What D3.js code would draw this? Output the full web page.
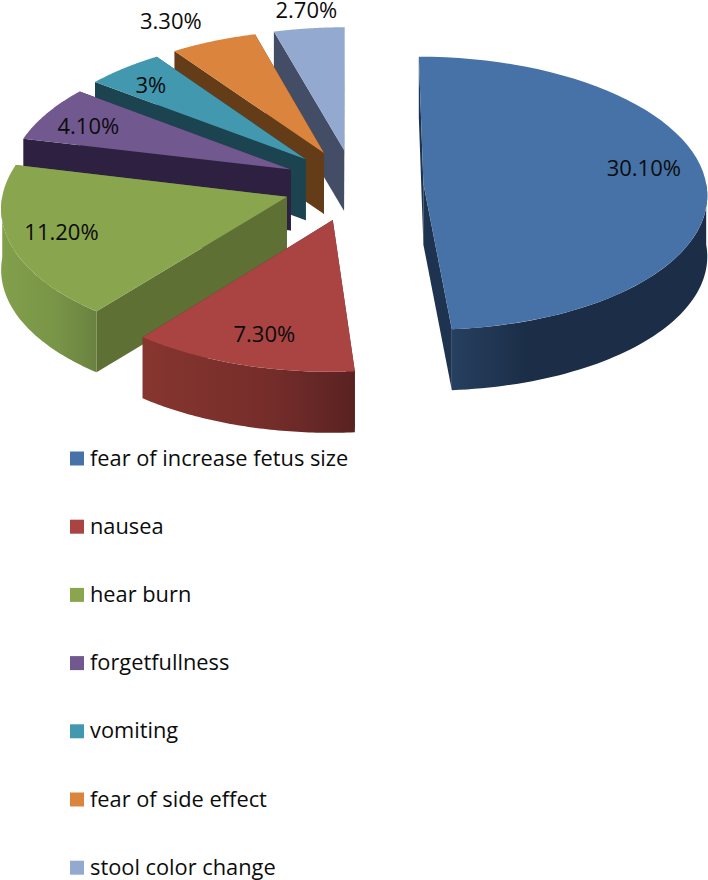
<!DOCTYPE html>
<html><head><meta charset="utf-8">
<script src="https://cdn.jsdelivr.net/npm/d3@7"></script>
<style>html,body{margin:0;padding:0;background:#fff}svg{display:block}text{font-family:"Open Sans",sans-serif;fill:#0c0c0c}</style>
</head><body><div id="c"></div>
<script>
const categories = ["fear of increase fetus size","nausea","hear burn","forgetfullness","vomiting","fear of side effect","stool color change"];
const values = [30.1,7.3,11.2,4.1,3,3.3,2.7];
const valueLabels = ["30.10%","7.30%","11.20%","4.10%","3%","3.30%","2.70%"];
const topColors = ["#4672a7","#a94442","#89a54e","#71588f","#4198af","#db843d","#93a9cf"];
const cutColors = ["#1e3350","#6a2a28","#5e7034","#2e2040","#1c4450","#653c18","#434e66"];
const wallLeft  = ["#26405f","#87352f","#82a04b","#2e2040","#1c4450","#653c18","#434e66"];
const wallRight = ["#1b2d47","#592222","#6a8140","#2e2040","#1c4450","#653c18","#434e66"];
const drawOrder = [0,6,5,4,3,2,1];
const labelShift = [[9,-13],[-1,6],[-19,0],[-18,-2],[-17,-6],[-69,-48],[-11,-48]];

const W=708,H=880;
const cx=353.5,cy=185,rx=283,ry=136,ex=70,ey=36,persp=0.07,depth=61;
const legendX=70,legendTextX=90,legendBox=14,legendY0=458.5,legendStep=68.2;

const svg=d3.select("#c").append("svg").attr("width",W).attr("height",H);
const defs=svg.append("defs");
const pie=d3.pie().sort(null).value(d=>d);
const arcs=pie(values);
const line=d3.line();
const unit=a=>[Math.sin(a),-Math.cos(a)];

function project(s,a,r,dz){
  const m=(s.startAngle+s.endAngle)/2,[mu,mv]=unit(m),[u,v]=unit(a);
  const gx=ex*mu+rx*r*u, gy=ey*mv+ry*r*v;
  const k=1/(1-persp*gy/ry);
  return [cx+gx*k, cy+gy*k+(dz||0)];
}
const layer=svg.append("g");
drawOrder.forEach(i=>{
  const s=arcs[i],a0=s.startAngle,a1=s.endAngle,g=layer.append("g");
  const step=(a1-a0)/60;
  const angles=d3.range(61).map(n=>a0+n*step);
  const apexT=project(s,a0,0),apexB=project(s,a0,0,depth);
  [a0,a1].forEach(a=>{
    g.append("path").attr("fill",cutColors[i]).attr("d",
      line([apexT,project(s,a,1),project(s,a,1,depth),apexB])+"Z");
  });
  const f0=Math.max(a0,Math.PI/2),f1=Math.min(a1,1.5*Math.PI);
  if(f1>f0){
    const fa=d3.range(61).map(n=>f0+n*(f1-f0)/60);
    const tops=fa.map(a=>project(s,a,1)),bots=fa.map(a=>project(s,a,1,depth));
    const xs=tops.map(p=>p[0]);
    const id="w"+i;
    const gr=defs.append("linearGradient").attr("id",id).attr("gradientUnits","userSpaceOnUse")
      .attr("x1",d3.min(xs)).attr("x2",d3.max(xs)).attr("y1",0).attr("y2",0);
    gr.append("stop").attr("offset",0).attr("stop-color",wallLeft[i]);
    gr.append("stop").attr("offset",i===0?0.3:0.6).attr("stop-color",d3.interpolateRgb(wallLeft[i],wallRight[i])(i===0?1:0.4));
    gr.append("stop").attr("offset",1).attr("stop-color",wallRight[i]);
    g.append("path").attr("fill",`url(#${id})`).attr("d",line(tops.concat(bots.reverse()))+"Z");
  }
  g.append("path").attr("fill",topColors[i]).attr("d",
    line([apexT].concat(angles.map(a=>project(s,a,1))))+"Z");
});
svg.append("g").selectAll("text").data(arcs).join("text")
  .attr("text-anchor","middle").attr("dominant-baseline","central")
  .attr("font-size",22)
  .attr("x",(d,i)=>project(d,(d.startAngle+d.endAngle)/2,0.75)[0]+labelShift[i][0])
  .attr("y",(d,i)=>project(d,(d.startAngle+d.endAngle)/2,0.75)[1]+labelShift[i][1])
  .text((d,i)=>valueLabels[i]);
const ly=d3.scaleLinear().domain([0,1]).range([legendY0,legendY0+legendStep]);
const lg=svg.append("g").selectAll("g").data(categories).join("g");
lg.append("rect").attr("x",legendX).attr("y",(d,i)=>ly(i)-legendBox/2).attr("width",legendBox).attr("height",legendBox)
  .attr("fill",(d,i)=>topColors[i]);
lg.append("text").attr("x",legendTextX).attr("y",(d,i)=>ly(i)+7).attr("font-size",21.8).text(d=>d);
</script></body></html>
